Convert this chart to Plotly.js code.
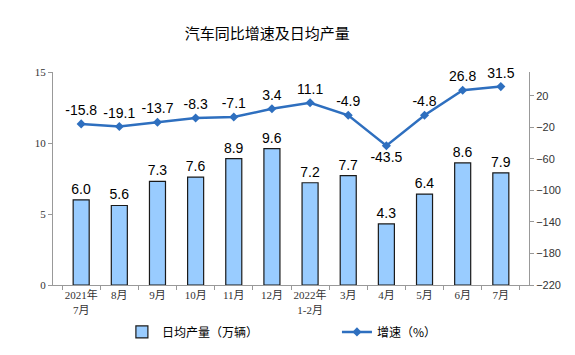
<!DOCTYPE html>
<html><head><meta charset="utf-8">
<script src="https://cdn.plot.ly/plotly-3.0.1.min.js"></script>
<style>html,body{margin:0;padding:0;background:#fff}#chart{width:575px;height:355px}</style>
</head><body><div id="chart"></div>
<script>
const categories = ["2021年<br>7月","8月","9月","10月","11月","12月","2022年<br>1-2月","3月","4月","5月","6月","7月"];
const dailyOutput = [6.0,5.6,7.3,7.6,8.9,9.6,7.2,7.7,4.3,6.4,8.6,7.9];
const growth = [-15.8,-19.1,-13.7,-8.3,-7.1,3.4,11.1,-4.9,-43.5,-4.8,26.8,31.5];
const growthLabelPos = ["top center","top center","top center","top center","top center","top center","top center","top center","bottom center","top center","top center","top center"];

const sans = '"Liberation Sans", Arial, "Noto Sans CJK SC", sans-serif';
const serif = '"Liberation Serif", "Times New Roman", "Noto Sans CJK SC", serif';
const cjk = '"Noto Sans CJK SC", sans-serif';

const traces = [
  {
    type:'bar', x:categories, y:dailyOutput, name:'日均产量（万辆）', legend:'legend',
    marker:{color:'#99CCFF', line:{color:'#1a1a1a', width:1.2}},
    width:0.42,
    text:dailyOutput.map(v=>v.toFixed(1)), textposition:'outside', constraintext:'none',
    textfont:{family:sans, size:14, color:'#000'}, cliponaxis:false,
    hoverinfo:'skip'
  },
  {
    type:'scatter', mode:'lines+markers+text', x:categories, y:growth, yaxis:'y2',
    name:'增速（%）', legend:'legend2',
    line:{color:'#2E6FBF', width:2.5},
    marker:{symbol:'diamond', size:7, color:'#2E6FBF'},
    text:growth.map(v=>v.toFixed(1)), textposition:growthLabelPos,
    textfont:{family:sans, size:14, color:'#000'}, cliponaxis:false,
    hoverinfo:'skip'
  }
];

const layout = {
  width:575, height:355,
  margin:{l:53, r:46, t:72, b:70},
  paper_bgcolor:'#fff', plot_bgcolor:'#fff',
  title:{text:'汽车同比增速及日均产量', x:0.465, xanchor:'center', y:0.905, yanchor:'middle',
         font:{family:cjk, size:15, color:'#000'}},
  xaxis:{
    type:'category', showgrid:false, zeroline:false, automargin:false,
    showline:true, linecolor:'#999', linewidth:1, tickangle:0,
    ticks:'outside', tickson:'boundaries', ticklen:4, tickcolor:'#999',
    tickfont:{family:serif, size:11, color:'#333'},
    fixedrange:true
  },
  yaxis:{
    range:[0,15], tickvals:[0,5,10,15], showgrid:false, zeroline:false, automargin:false,
    showline:true, linecolor:'#999', linewidth:1,
    ticks:'outside', ticklen:4, tickcolor:'#999',
    tickfont:{family:serif, size:11, color:'#333'}
  },
  yaxis2:{
    overlaying:'y', side:'right', range:[-220,50], automargin:false,
    tickvals:[-220,-180,-140,-100,-60,-20,20], showgrid:false, zeroline:false,
    showline:true, linecolor:'#999', linewidth:1,
    ticks:'outside', ticklen:4, tickcolor:'#999',
    tickfont:{family:sans, size:11, color:'#333'}
  },
  showlegend:true,
  legend:{orientation:'h', xref:'container', x:0.212, xanchor:'left', yref:'container', y:0.065, yanchor:'middle',
          font:{family:cjk, size:12, color:'#000'}},
  legend2:{orientation:'h', xref:'container', x:0.586, xanchor:'left', yref:'container', y:0.065, yanchor:'middle',
          font:{family:cjk, size:12, color:'#000'}}
};

Plotly.newPlot('chart', traces, layout, {displayModeBar:false, staticPlot:true});
</script>
</body></html>
